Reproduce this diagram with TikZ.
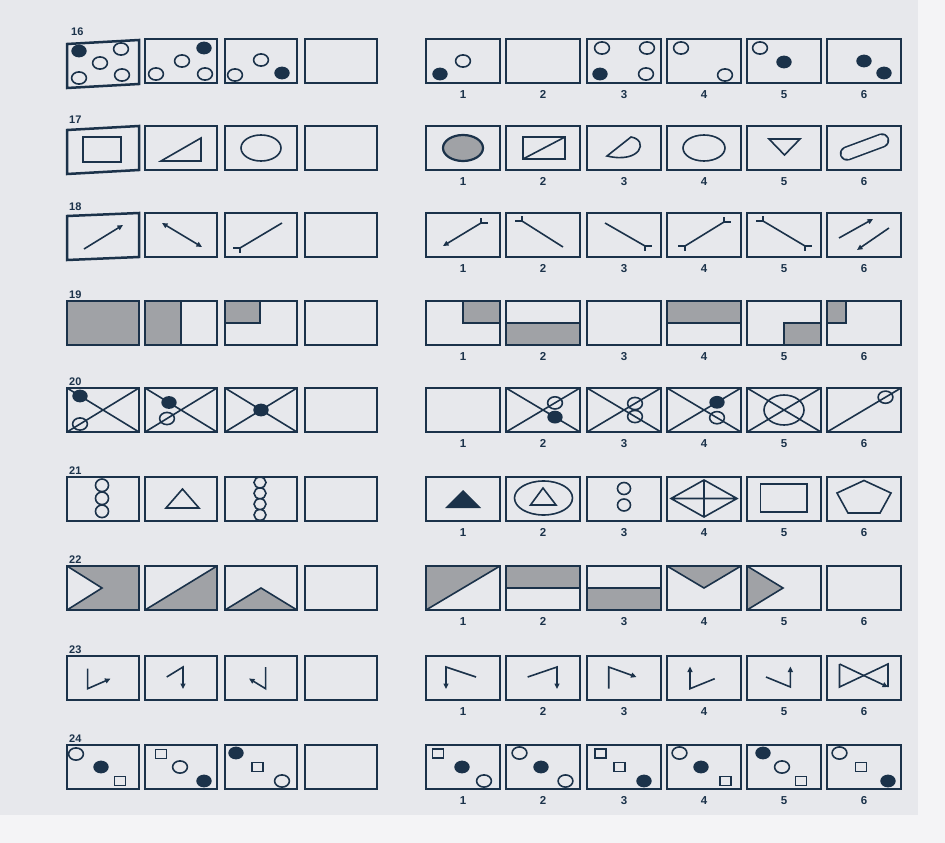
\documentclass[tikz,border=0pt]{standalone}
\usepackage{fontspec}
\setsansfont{Liberation Sans}
\usetikzlibrary{arrows.meta}
\definecolor{dk}{RGB}{27,50,74}
\definecolor{gr}{RGB}{160,162,166}
\definecolor{bg}{RGB}{231,232,236}
\definecolor{edge}{RGB}{244,244,246}
\tikzset{
  bx/.style={draw=dk, line width=2.5},
  ln/.style={draw=dk, line width=1.6},
  lbl/.style={anchor=base west, inner sep=0pt, text=dk, font=\sffamily\bfseries\fontsize{11}{13}\selectfont},
  num/.style={anchor=base, inner sep=0pt, text=dk, font=\sffamily\bfseries\fontsize{11.5}{13}\selectfont},
  >={Triangle[length=5.5pt,width=5pt]}
}
\newcommand\myoc[2]{\draw[ln] (#1,#2) ellipse [x radius=7.4, y radius=6.1];}
\newcommand\myfc[2]{\fill[dk] (#1,#2) ellipse [x radius=7.7, y radius=6.4];}
\newcommand\mysq[2]{\draw[ln] ({#1-5.5},{#2-4.5}) rectangle ({#1+5.5},{#2+4.5});}
\newcommand\tend[4]{\draw[ln] (#1,#2) -- ++({7*#3},0) (#1,#2) -- ++(0,{5*#4});}
\newcommand\pbox[4]{\begin{scope}[shift={(#1,#2)}]#4\draw[bx] (0,0) rectangle (#3,44);\end{scope}}
\newcommand\tbox[4]{\begin{scope}[shift={(#1,#2)}]#4\draw[bx] (0,#3) -- (72,0) -- (72,44) -- (0,{44+#3}) -- cycle;\end{scope}}
\newcommand\nums[2]{\foreach \i/\xx in {1/426,2/506,3/587,4/667,5/747,6/827}{\node[num] (n#2-\i) at ({\xx+37},{#1+59}) {\i};}}
\newcommand\xx[1]{\draw[ln] (0,0) -- (#1,44) (0,44) -- (#1,0);}
\begin{document}
\begin{tikzpicture}[x=1pt,y=-1pt]
\useasboundingbox (0,0) rectangle (945,843);
\fill[edge] (0,0) rectangle (945,843);
\fill[bg] (0,0) rectangle (918,815);

% ---------- row 16
\node[lbl] (r16) at (71,36) {16};
\tbox{67}{40}{4}{\myfc{12}{11}\myoc{54}{9}\myoc{33}{23}\myoc{12}{38}\myoc{55}{35}}
\pbox{145}{39}{72}{\myfc{59}{9}\myoc{37}{22}\myoc{11}{35}\myoc{60}{35}}
\pbox{225}{39}{72}{\myoc{36}{21}\myoc{10}{36}\myfc{57}{34}}
\pbox{305}{39}{72}{}
\pbox{426}{39}{74}{\myoc{37}{22}\myfc{14}{35}}
\pbox{506}{39}{74}{}
\pbox{587}{39}{74}{\myoc{15}{9}\myoc{60}{9}\myfc{13}{35}\myoc{59}{35}}
\pbox{667}{39}{74}{\myoc{14}{9}\myoc{58}{36}}
\pbox{747}{39}{74}{\myoc{13}{9}\myfc{37}{23}}
\pbox{827}{39}{74}{\myfc{37}{22}\myfc{57}{34}}
\nums{39}{16}

% ---------- row 17
\node[lbl] (r17) at (69,123) {17};
\tbox{67}{126}{4}{\draw[ln] (16,11) rectangle (54,36);}
\pbox{145}{126}{72}{\draw[ln] (16,35) -- (56,35) -- (56,12) -- cycle;}
\pbox{225}{126}{72}{\draw[ln] (36,22) ellipse [x radius=20, y radius=13];}
\pbox{305}{126}{72}{}
\pbox{426}{126}{74}{\draw[ln, fill=gr, line width=2.2] (37,22) ellipse [x radius=20, y radius=13];}
\pbox{506}{126}{74}{\draw[ln] (17,11) rectangle (59,33) (17,33) -- (59,11);}
\pbox{587}{126}{74}{\draw[ln] (44,11) .. controls (62,14) and (54,38) .. (20,30) -- cycle;}
\pbox{667}{126}{74}{\draw[ln] (37,22) ellipse [x radius=21, y radius=13];}
\pbox{747}{126}{74}{\draw[ln] (22,13) -- (53,13) -- (37.5,29) -- cycle;}
\pbox{827}{126}{74}{\draw[dk, line width=14.5, line cap=round] (20,27.5) -- (55,14.5);
  \draw[bg, line width=11.3, line cap=round] (20,27.5) -- (55,14.5);}
\nums{126}{17}

% ---------- row 18
\node[lbl] (r18) at (69,210) {18};
\tbox{67}{213}{3}{\draw[ln,->] (17,36) -- (56,12);}
\pbox{145}{213}{72}{\draw[ln,<->] (17,10) -- (57,34);}
\pbox{225}{213}{72}{\draw[ln] (15,35) -- (57,10); \tend{15}{35}{-1}{1}}
\pbox{305}{213}{72}{}
\pbox{426}{213}{74}{\draw[ln,<-] (17,33) -- (55,10); \tend{55}{10}{1}{-1}}
\pbox{506}{213}{74}{\draw[ln] (16,8) -- (57,34); \tend{16}{8}{-1}{-1}}
\pbox{587}{213}{74}{\draw[ln] (18,10) -- (58,33); \tend{58}{33}{1}{1}}
\pbox{667}{213}{74}{\draw[ln] (18,33) -- (57,9); \tend{18}{33}{-1}{1}\tend{57}{9}{1}{-1}}
\pbox{747}{213}{74}{\draw[ln] (16,8) -- (58,33); \tend{16}{8}{-1}{-1}\tend{58}{33}{1}{1}}
\pbox{827}{213}{74}{\draw[ln,->] (12,25) -- (46,6); \draw[ln,->] (62,15) -- (30,37);}
\nums{213}{18}

% ---------- row 19
\node[lbl] (r19) at (69,298) {19};
\pbox{67}{301}{72}{\fill[gr] (0,0) rectangle (72,44);}
\pbox{145}{301}{72}{\fill[gr] (0,0) rectangle (36,44); \draw[ln] (36,0) -- (36,44);}
\pbox{225}{301}{72}{\fill[gr] (0,0) rectangle (35,22); \draw[ln] (35,0) -- (35,22) -- (0,22);}
\pbox{305}{301}{72}{}
\pbox{426}{301}{74}{\fill[gr] (37,0) rectangle (74,22); \draw[ln] (37,0) -- (37,22) -- (74,22);}
\pbox{506}{301}{74}{\fill[gr] (0,22) rectangle (74,44); \draw[ln] (0,22) -- (74,22);}
\pbox{587}{301}{74}{}
\pbox{667}{301}{74}{\fill[gr] (0,0) rectangle (74,22); \draw[ln] (0,22) -- (74,22);}
\pbox{747}{301}{74}{\fill[gr] (37,22) rectangle (74,44); \draw[ln] (37,44) -- (37,22) -- (74,22);}
\pbox{827}{301}{74}{\fill[gr] (0,0) rectangle (19,22); \draw[ln] (19,0) -- (19,22) -- (0,22);}
\nums{301}{19}

% ---------- row 20
\node[lbl] (r20) at (69,385) {20};
\pbox{67}{388}{72}{\xx{72}\myfc{13}{8}\myoc{13}{36}}
\pbox{145}{388}{72}{\xx{72}\myfc{24}{14.5}\myoc{22}{30.5}}
\pbox{225}{388}{72}{\xx{72}\myfc{36}{22}}
\pbox{305}{388}{72}{}
\pbox{426}{388}{74}{}
\pbox{506}{388}{74}{\xx{74}\myoc{49}{14.9}\myfc{49}{29.1}}
\pbox{587}{388}{74}{\xx{74}\myoc{48}{15.5}\myoc{48}{28.5}}
\pbox{667}{388}{74}{\xx{74}\myfc{50}{14.3}\myoc{50}{29.7}}
\pbox{747}{388}{74}{\xx{74}\draw[ln] (37,22) ellipse [x radius=20, y radius=15];}
\pbox{827}{388}{74}{\draw[ln] (0,44) -- (74,0); \myoc{58.5}{9.2}}
\nums{388}{20}

% ---------- row 21
\node[lbl] (r21) at (69,474) {21};
\pbox{67}{477}{72}{\draw[ln] (35,8.3) ellipse [x radius=6.5, y radius=6.3] (35,21.3) ellipse [x radius=6.5, y radius=6.3] (35,34.3) ellipse [x radius=6.5, y radius=6.3];}
\pbox{145}{477}{72}{\draw[ln] (21,31) -- (54,31) -- (37.5,12) -- cycle;}
\pbox{225}{477}{72}{\draw[ln] (35,5.5) ellipse [x radius=6, y radius=5.4] (35,16.3) ellipse [x radius=6, y radius=5.4] (35,27.1) ellipse [x radius=6, y radius=5.4] (35,37.9) ellipse [x radius=6, y radius=5.4];}
\pbox{305}{477}{72}{}
\pbox{426}{477}{74}{\fill[dk] (19,31) -- (55,31) -- (37,13) -- cycle;}
\pbox{506}{477}{74}{\draw[ln] (37.5,21) ellipse [x radius=29, y radius=17]; \draw[ln] (24.5,28) -- (50,28) -- (37,11) -- cycle;}
\pbox{587}{477}{74}{\draw[ln] (37,11.5) ellipse [x radius=6.5, y radius=6] (37,28) ellipse [x radius=6.5, y radius=6];}
\pbox{667}{477}{74}{\draw[ln] (37,3) -- (70,21.5) -- (37,40) -- (4,21.5) -- cycle (4,21.5) -- (70,21.5) (37,3) -- (37,40);}
\pbox{747}{477}{74}{\draw[ln] (13.5,7) rectangle (60,35);}
\pbox{827}{477}{74}{\draw[ln] (37,3.5) -- (64,16) -- (53,36) -- (21,36) -- (10,16) -- cycle;}
\nums{477}{21}

% ---------- row 22
\node[lbl] (r22) at (69,563) {22};
\pbox{67}{566}{72}{\fill[gr] (0,0) rectangle (72,44); \fill[bg] (0,0) -- (35,22) -- (0,44) -- cycle; \draw[ln] (0,0) -- (35,22) -- (0,44);}
\pbox{145}{566}{72}{\fill[gr] (0,44) -- (72,0) -- (72,44) -- cycle; \draw[ln] (0,44) -- (72,0);}
\pbox{225}{566}{72}{\fill[gr] (0,44) -- (36,22) -- (72,44) -- cycle; \draw[ln] (0,44) -- (36,22) -- (72,44);}
\pbox{305}{566}{72}{}
\pbox{426}{566}{74}{\fill[gr] (0,0) -- (74,0) -- (0,44) -- cycle; \draw[ln] (0,44) -- (74,0);}
\pbox{506}{566}{74}{\fill[gr] (0,0) rectangle (74,22); \draw[ln] (0,22) -- (74,22);}
\pbox{587}{566}{74}{\fill[gr] (0,22) rectangle (74,44); \draw[ln] (0,22) -- (74,22);}
\pbox{667}{566}{74}{\fill[gr] (0,0) -- (37,22) -- (74,0) -- cycle; \draw[ln] (0,0) -- (37,22) -- (74,0);}
\pbox{747}{566}{74}{\fill[gr] (0,0) -- (36,22) -- (0,44) -- cycle; \draw[ln] (0,0) -- (36,22) -- (0,44);}
\pbox{827}{566}{74}{}
\nums{566}{22}

% ---------- row 23
\node[lbl] (r23) at (69,653) {23};
\pbox{67}{656}{72}{\draw[ln,->] (20.6,12.7) -- (20.6,32.7) -- (43.5,22.7);}
\pbox{145}{656}{72}{\draw[ln,->] (21.7,21) -- (38,11) -- (38,33);}
\pbox{225}{656}{72}{\draw[ln,->] (40.6,11) -- (40.6,32.7) -- (24,22.5);}
\pbox{305}{656}{72}{}
\pbox{426}{656}{74}{\draw[ln,->] (50,21) -- (20,11) -- (20,33);}
\pbox{506}{656}{74}{\draw[ln,->] (21.7,21) -- (51,11) -- (51,33);}
\pbox{587}{656}{74}{\draw[ln,->] (21.7,32.7) -- (21.7,11) -- (49.5,21);}
\pbox{667}{656}{74}{\draw[ln,->] (47.7,22.7) -- (23,32.7) -- (23,10.5);}
\pbox{747}{656}{74}{\draw[ln,->] (19,21) -- (43.4,31) -- (43.4,10.5);}
\pbox{827}{656}{74}{\draw[ln] (61,31) -- (61,8) -- (12.5,31) -- (12.5,8); \draw[ln,->] (12.5,8) -- (61,31);}
\nums{656}{23}

% ---------- row 24
\node[lbl] (r24) at (69,742) {24};
\pbox{67}{745}{72}{\myoc{9}{9}\myfc{34}{22}\mysq{53}{36}}
\pbox{145}{745}{72}{\mysq{16}{9}\myoc{35}{22}\myfc{59}{36}}
\pbox{225}{745}{72}{\myfc{11}{8}\mysq{32.5}{22}\myoc{57}{36}}
\pbox{305}{745}{72}{}
\pbox{426}{745}{74}{\mysq{12}{8.5}\myfc{36}{22}\myoc{58}{36}}
\pbox{506}{745}{74}{\myoc{13.5}{8}\myfc{35}{22}\myoc{59.5}{36}}
\pbox{587}{745}{74}{\mysq{13.5}{8.5}\mysq{32.5}{22}\myfc{57}{36}}
\pbox{667}{745}{74}{\myoc{12.5}{8}\myfc{34}{22}\mysq{58.5}{36}}
\pbox{747}{745}{74}{\myfc{16}{8}\myoc{35}{22}\mysq{54}{36}}
\pbox{827}{745}{74}{\myoc{12.5}{8}\mysq{34}{22}\myfc{61}{36}}
\nums{745}{24}
\end{tikzpicture}
\end{document}
